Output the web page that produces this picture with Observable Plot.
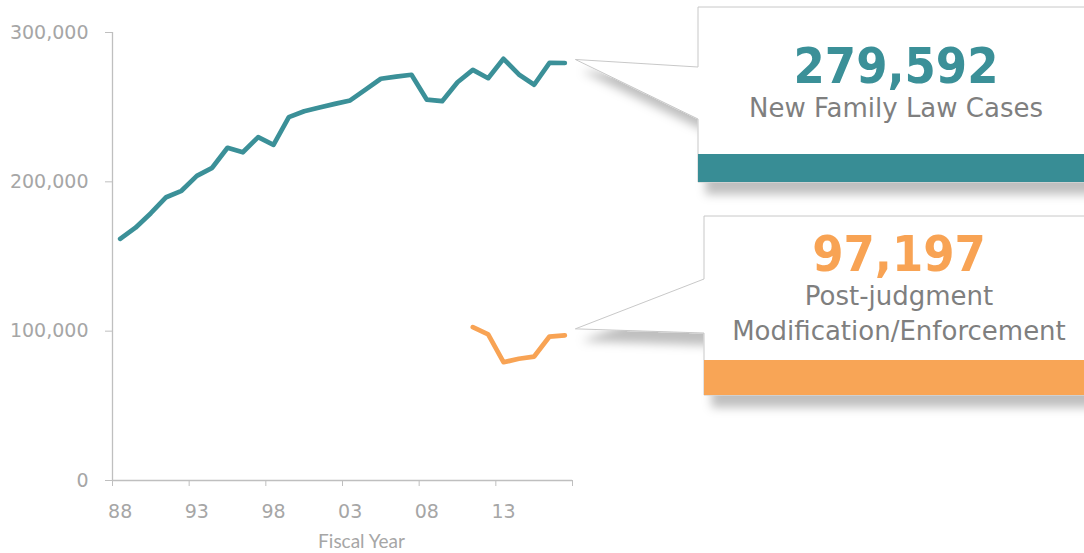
<!DOCTYPE html>
<html><head><meta charset="utf-8">
<script src="https://cdn.jsdelivr.net/npm/d3@7"></script>
<script src="https://cdn.jsdelivr.net/npm/@observablehq/plot@0.6"></script>
<style>
html,body{margin:0;padding:0;background:#fff;}
#chart{width:1084px;height:553px;overflow:hidden;}
</style></head><body><div id="chart"></div>
<script>
// ---- data ----
const years = [1988,1989,1990,1991,1992,1993,1994,1995,1996,1997,1998,1999,2000,2001,2002,2003,2004,2005,2006,2007,2008,2009,2010,2011,2012,2013,2014,2015,2016,2017];
const newCases = [161800,169300,179000,189700,194000,204000,209400,222800,219800,229900,224800,243300,247300,249800,252200,254500,261800,269000,270400,271700,255000,254000,266700,275000,269400,282400,271900,265000,279700,279592];
const postYears = [2011,2012,2013,2014,2015,2016,2017];
const postJudgment = [102700,97800,79200,81500,83000,96400,97197];
const yTicks = [0,100000,200000,300000];
const xLabelYears = [1988,1993,1998,2003,2008,2013];
const seriesNames = ["New Family Law Cases", "Post-judgment\nModification/Enforcement"];

// ---- styles ----
const teal = "#3b9098", orange = "#f8a354";
const tealBar = "#378d95", orangeBar = "#f8a556";
const axisStroke = "#bfbfbf", axisText = "#a6a6a6";
const W = 1084, H = 553;

const rowsNew = years.map((y, i) => ({year: y, value: newCases[i]}));
const rowsPost = postYears.map((y, i) => ({year: y, value: postJudgment[i]}));
const tickBounds = d3.range(years[0] - 0.5, years[years.length - 1] + 1, 5);

const plot = Plot.plot({
  width: W, height: H,
  marginLeft: 112, marginRight: 512, marginTop: 32, marginBottom: 73,
  style: {fontFamily: "'DejaVu Sans', sans-serif", background: "#fff"},
  x: {domain: [years[0] - 0.5, years[years.length - 1] + 0.5]},
  y: {domain: [0, 300000]},
  marks: [
    Plot.ruleX([years[0] - 0.5], {stroke: axisStroke, strokeWidth: 1.3}),
    Plot.ruleY([0], {stroke: axisStroke, strokeWidth: 1.3}),
    Plot.axisY({ticks: yTicks, tickSize: 7, tickPadding: 17, tickFormat: d3.format(","), fontSize: 19,
      stroke: axisStroke, fill: axisText, label: null}),
    Plot.axisX({ticks: tickBounds, tickSize: 6, tickFormat: () => "", stroke: axisStroke, label: null}),
    Plot.axisX({ticks: xLabelYears, tickSize: 0, tickPadding: 24, fontSize: 19, fill: axisText,
      tickFormat: d => String(d % 100).padStart(2, "0"), label: null}),
    Plot.text(["Fiscal Year"], {frameAnchor: "bottom", dx: 19, dy: 61, lineAnchor: "middle",
      fontSize: 19, fill: axisText, fontFamily: "Lato, sans-serif", letterSpacing: "0.7px"}),
    Plot.lineY(rowsNew, {x: "year", y: "value", stroke: teal, strokeWidth: 4.7,
      strokeLinecap: "round", strokeLinejoin: "round"}),
    Plot.lineY(rowsPost, {x: "year", y: "value", stroke: orange, strokeWidth: 4.7,
      strokeLinecap: "round", strokeLinejoin: "round"})
  ]
});
document.getElementById("chart").appendChild(plot);

// ---- callouts ----
const svg = d3.select(plot);
const xs = plot.scale("x"), ys = plot.scale("y");
const defs = svg.append("defs");
const filt = defs.append("filter").attr("id", "sh")
  .attr("x", "-20%").attr("y", "-20%").attr("width", "160%").attr("height", "170%");
filt.append("feDropShadow").attr("dx", 8).attr("dy", 12).attr("stdDeviation", 5)
  .attr("flood-color", "#000").attr("flood-opacity", 0.25);

const callouts = [
  {year: years[years.length - 1], value: newCases[newCases.length - 1], name: seriesNames[0],
   color: teal, bar: tealBar, left: 698, top: 7, bottom: 182, barTop: 154, pTop: 67, pBot: 119,
   tipDx: 11, tipDy: -3, cx: 896, numBase: 83, labelBase: 117},
  {year: postYears[postYears.length - 1], value: postJudgment[postJudgment.length - 1], name: seriesNames[1],
   color: orange, bar: orangeBar, left: 704, top: 216, bottom: 395, barTop: 360, pTop: 279, pBot: 333,
   tipDx: 11, tipDy: -6, cx: 899, numBase: 271, labelBase: 305}
];
for (const c of callouts) {
  const tx = xs.apply(c.year) + c.tipDx, ty = ys.apply(c.value) + c.tipDy;
  const g = svg.append("g").attr("filter", "url(#sh)");
  g.append("path")
    .attr("d", `M${c.left},${c.top}H${W + 20}V${c.bottom}H${c.left}V${c.pBot}L${tx},${ty}L${c.left},${c.pTop}Z`)
    .attr("fill", "#fff").attr("stroke", "#c8c8c8").attr("stroke-width", 1);
  g.append("rect").attr("x", c.left).attr("y", c.barTop)
    .attr("width", W + 20 - c.left).attr("height", c.bottom - c.barTop).attr("fill", c.bar);
  svg.append("text").attr("x", c.cx).attr("y", c.numBase).attr("text-anchor", "middle")
    .attr("font-family", "'DejaVu Sans Condensed', 'DejaVu Sans', sans-serif").attr("font-weight", "bold")
    .attr("font-stretch", "condensed").attr("font-size", 50).attr("fill", c.color)
    .text(d3.format(",")(c.value));
  c.name.split("\n").forEach((line, i) => {
    svg.append("text").attr("x", c.cx).attr("y", c.labelBase + i * 35).attr("text-anchor", "middle")
      .attr("font-family", "'DejaVu Sans', sans-serif").attr("font-size", 26).attr("fill", "#7f7f7f")
      .text(line);
  });
}
</script></body></html>
